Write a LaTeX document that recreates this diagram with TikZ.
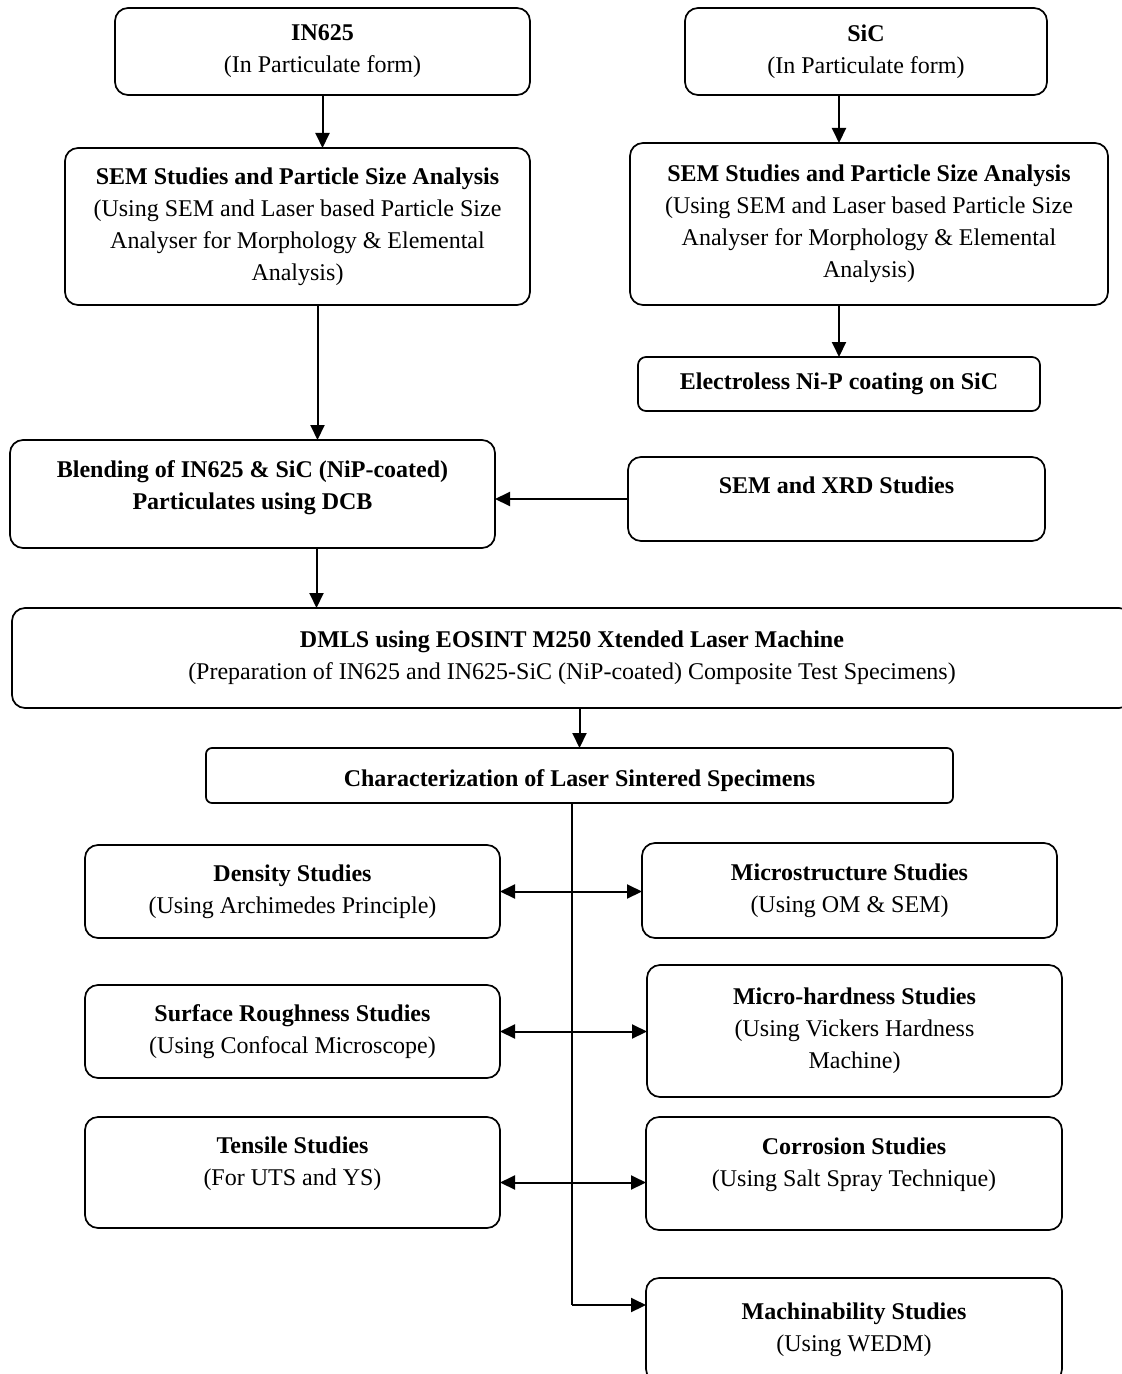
\documentclass[tikz,border=0pt]{standalone}
\usepackage{fontspec}
\setmainfont{Liberation Serif}
\usetikzlibrary{arrows.meta,calc}

\begin{document}
\begin{tikzpicture}[x=0.5pt,y=-0.5pt,
  box/.style={draw, line width=0.85pt, rounded corners=6.5pt, align=center,
    inner sep=0pt, outer sep=0pt, font=\fontsize{12}{16}\selectfont},
  arr/.style={line width=1pt, -{Triangle[length=7.5pt,width=7pt]}},
  darr/.style={line width=1pt, {Triangle[length=7.5pt,width=7pt]}-{Triangle[length=7.5pt,width=7pt]}},
  trunk/.style={line width=0.8pt}]
\clip (0,0) rectangle (1122,1374);
\fill[white] (0,0) rectangle (1122,1374);

% raw materials
\node[box, minimum width=207.5pt, minimum height=43.5pt] (in625) at (322.5,51.5)
  {\textbf{IN625}\\(In Particulate form)};
\node[box, minimum width=181pt, minimum height=43.5pt] (sic) at (866,51.5)
  {\textbf{SiC}\\(In Particulate form)};

% powder characterisation
\node[box, minimum width=232.5pt, minimum height=78.5pt] (semL) at (297.5,226.5)
  {\textbf{SEM Studies and Particle Size Analysis}\\(Using SEM and Laser based Particle Size\\Analyser for Morphology \& Elemental\\Analysis)};
\node[box, minimum width=239pt, minimum height=81pt] (semR) at (869,224)
  {\textbf{SEM Studies and Particle Size Analysis}\\(Using SEM and Laser based Particle Size\\Analyser for Morphology \& Elemental\\Analysis)};
\node[box, rounded corners=4pt, minimum width=201pt, minimum height=27pt] (eless) at (839,384)
  {\textbf{Electroless Ni-P coating on SiC}};

% blending
\node[box, minimum width=242.5pt, minimum height=54pt, text depth=9pt] (blend) at (252.5,494)
  {\textbf{Blending of IN625 \& SiC (NiP-coated)}\\\textbf{Particulates using DCB}};
\node[box, minimum width=208.5pt, minimum height=42pt, text depth=14pt] (xrd) at (836.5,499)
  {\textbf{SEM and XRD Studies}};

% laser sintering
\node[box, minimum width=560pt, minimum height=50pt] (dmls) at (572,658)
  {\textbf{DMLS using EOSINT M250 Xtended Laser Machine}\\(Preparation of IN625 and IN625-SiC (NiP-coated) Composite Test Specimens)};
\node[box, rounded corners=3pt, minimum width=373.5pt, minimum height=27.5pt, text height=14pt] (char) at (579.5,775.5)
  {\textbf{Characterization of Laser Sintered Specimens}};

% studies
\node[box, minimum width=207.5pt, minimum height=46.5pt] (dens) at (292.5,891.5)
  {\textbf{Density Studies}\\(Using Archimedes Principle)};
\node[box, minimum width=207.5pt, minimum height=47.5pt] (micro) at (849.5,890.5)
  {\textbf{Microstructure Studies}\\(Using OM \& SEM)};
\node[box, minimum width=207.5pt, minimum height=46.5pt] (surf) at (292.5,1031.5)
  {\textbf{Surface Roughness Studies}\\(Using Confocal Microscope)};
\node[box, minimum width=207.5pt, minimum height=66pt] (hard) at (854.5,1031)
  {\textbf{Micro-hardness Studies}\\(Using Vickers Hardness\\Machine)};
\node[box, minimum width=207.5pt, minimum height=55.5pt, text depth=11pt] (tens) at (292.5,1172.5)
  {\textbf{Tensile Studies}\\(For UTS and YS)};
\node[box, minimum width=208pt, minimum height=56.5pt, text depth=11pt] (corr) at (854,1173.5)
  {\textbf{Corrosion Studies}\\(Using Salt Spray Technique)};
\node[box, minimum width=208pt, minimum height=52pt] (mach) at (854,1330)
  {\textbf{Machinability Studies}\\(Using WEDM)};

% connectors
\draw[arr] (in625.south) -- (in625.south |- semL.north);
\draw[arr] (sic.south -| eless.north) -- (semR.north -| eless.north);
\draw[arr] (semR.south -| eless.north) -- (eless.north);
\draw[arr] ([xshift=10pt]semL.south) -- ([xshift=10pt]semL.south |- blend.north);
\draw[arr] (xrd.west) -- (xrd.west -| blend.east);
\draw[arr] ([xshift=32pt]blend.south) -- ([xshift=32pt]blend.south |- dmls.north);
\draw[arr] (char.north |- dmls.south) -- (char.north);

\coordinate (tk) at (572,0);
\draw[trunk] (char.south -| tk) -- ([yshift=12.5pt]mach.west -| tk);
\draw[arr] ([yshift=12.5pt]mach.west -| tk) -- ([yshift=12.5pt]mach.west);

\draw[darr] (dens.east) -- (dens.east -| micro.west);
\draw[darr] (surf.east) -- (surf.east -| hard.west);
\draw[darr] ([yshift=-5pt]tens.east) -- ([yshift=-5pt]tens.east -| corr.west);
\end{tikzpicture}
\end{document}
